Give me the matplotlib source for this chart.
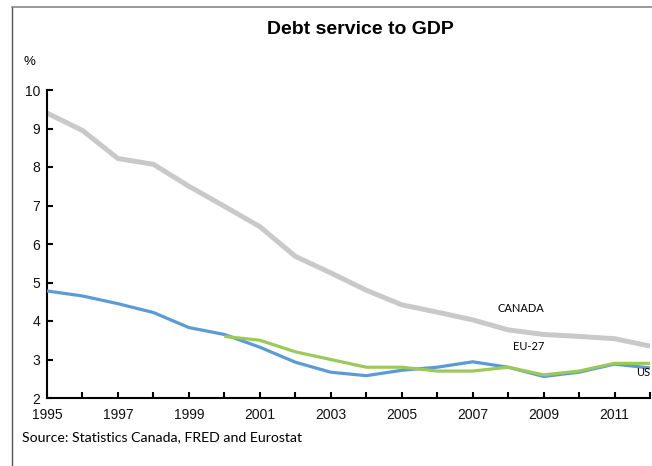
from matplotlib import pyplot as plt
from matplotlib.lines import Line2D

# data
years = list(range(1995, 2013))
canada = [9.40, 8.95, 8.22, 8.07, 7.50, 6.98, 6.45, 5.68, 5.25, 4.80,
          4.42, 4.23, 4.03, 3.77, 3.65, 3.60, 3.54, 3.35]
us = [4.78, 4.65, 4.45, 4.22, 3.83, 3.65, 3.32, 2.93, 2.67, 2.58,
      2.72, 2.80, 2.94, 2.80, 2.56, 2.67, 2.88, 2.78]
eu_years = list(range(2000, 2013))
eu27 = [3.60, 3.50, 3.20, 3.00, 2.80, 2.80, 2.70, 2.70, 2.80, 2.60,
        2.70, 2.90, 2.90]

yticks = [2, 3, 4, 5, 6, 7, 8, 9, 10]
xticks = list(range(1995, 2013))
xlabels = [str(y) if (y - 1995) % 2 == 0 else "" for y in xticks]

fig = plt.figure(figsize=(6.52, 4.66), dpi=100)
ax = fig.add_axes([47 / 652, 1 - 398 / 466, 603 / 652, 308 / 466])

ax.plot(years, canada, color="#C9C9C9", lw=3.6, solid_capstyle="butt", zorder=2)
ax.plot(years, us, color="#5B9BD5", lw=2.3, solid_capstyle="butt", zorder=3)
ax.plot(eu_years, eu27, color="#9BC95A", lw=2.3, solid_capstyle="butt", zorder=4)

ax.set_xlim(1995, 2012)
ax.set_ylim(2, 10)
ax.set_yticks(yticks)
ax.set_xticks(xticks)
ax.set_xticklabels(xlabels)
for s in ["top", "right"]:
    ax.spines[s].set_visible(False)
for s in ["left", "bottom"]:
    ax.spines[s].set_linewidth(1.5)
ax.spines["bottom"].set_zorder(5)
ax.tick_params(direction="in", length=4, width=1.5, labelsize=10,
               pad=5, labelfontfamily="Liberation Sans", labelcolor="#111111")
ax.tick_params(axis="x", pad=7)

fig.text(360 / 652, 1 - 30 / 466, "Debt service to GDP", ha="center", va="center",
         fontsize=14, fontweight="bold", family="Liberation Sans")
fig.text(29 / 652, 1 - 62 / 466, "%", ha="center", va="center",
         fontsize=9.5, family="Liberation Sans")
fig.text(22 / 652, 1 - 437 / 466, "Source: Statistics Canada, FRED and Eurostat",
         ha="left", va="center", fontsize=10.2, family="Lato")

lab = dict(ha="left", va="center", fontsize=8, family="Lato")
fig.text(497 / 652, 1 - 308 / 466, "CANADA", **lab)
fig.text(513 / 652, 1 - 346 / 466, "EU-27", **lab)
fig.text(636 / 652, 1 - 373 / 466, "US", **lab)

# frame lines of the original screenshot
fig.add_artist(Line2D([12 / 652, 12 / 652], [0, 1 - 7 / 466],
                      transform=fig.transFigure, color="#555555", lw=1))
fig.add_artist(Line2D([12 / 652, 1], [1 - 7 / 466, 1 - 7 / 466],
                      transform=fig.transFigure, color="#888888", lw=1.2))

fig.savefig("out.png", dpi=100)
